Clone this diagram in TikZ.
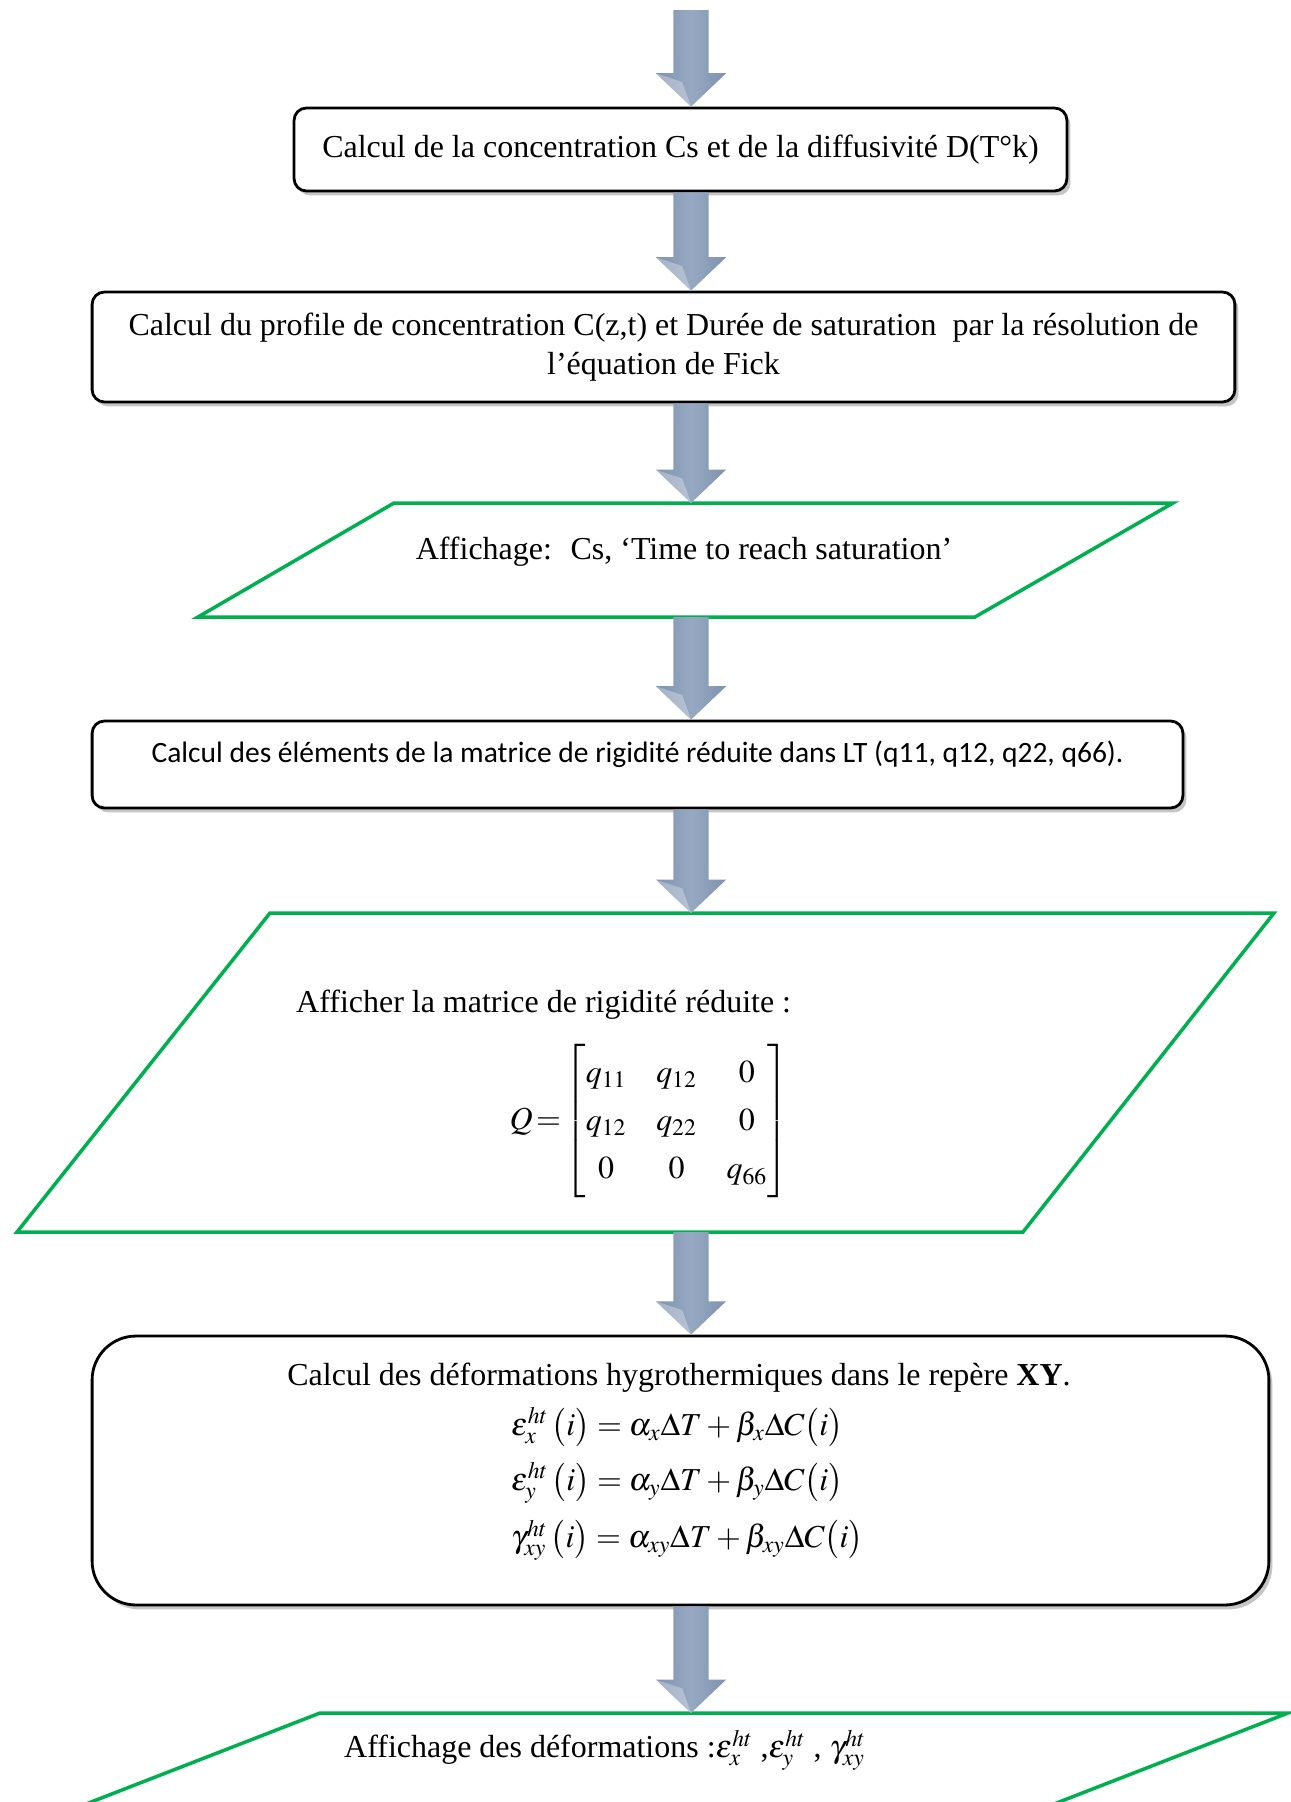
\documentclass[tikz,border=0pt]{standalone}
\usepackage{amsmath}
\usepackage{mathptmx}
\usepackage{fontspec}
\setmainfont{Liberation Serif}
\newfontfamily\calibri{Carlito}
\usetikzlibrary{calc,shadows}

\definecolor{flowgreen}{HTML}{00B050}
\definecolor{arrowside}{HTML}{7E92AE}
\definecolor{arrowmid}{HTML}{97A9C2}

% fat shaded arrow between two points on the same vertical
\newcommand{\flowarrow}[2]{%
  \shade[left color=arrowside,right color=arrowside,middle color=arrowmid]
    let \p1=(#1), \p2=(#2) in
    (\x1-10pt,\y1) -- (\x1+10pt,\y1) -- (\x1+10pt,\y2+19pt) -- (\x1+20pt,\y2+19pt)
    -- (\x1,\y2) -- (\x1-20pt,\y2+19pt) -- (\x1-10pt,\y2+19pt) -- cycle;
  \fill[white,opacity=.3] let \p2=(#2) in
    (\x2-20pt,\y2+19pt) -- (\x2,\y2) -- (\x2-5pt,\y2+14pt) -- cycle;}

\begin{document}
\begin{tikzpicture}[x=0.02cm,y=-0.02cm,font=\fontsize{18.2}{22}\selectfont,
  procbox/.style={draw,line width=1.6pt,rounded corners=7pt,fill=white,
    drop shadow={shadow xshift=2pt,shadow yshift=-2.5pt,opacity=.45}},
  iobox/.style={draw=flowgreen,line width=2pt,fill=white}]

        \fill[white] (0,0) rectangle (1291,1802);
        \useasboundingbox (0,0) rectangle (1291,1802);
        \clip (0,0) rectangle (1291,1802);

        \coordinate (axis) at (691,10);

        \node[procbox,minimum width=15.46cm,minimum height=1.66cm] (c1) at (680.5,149.5)
            {Calcul de la concentration Cs et de la diffusivité D(T°k)};
        \node[procbox,minimum width=22.86cm,minimum height=2.2cm,align=center] (c2) at (663.5,347)
            {Calcul du profile de concentration C(z,t) et Durée de saturation~ par la résolution de\\ l’équation de Fick};

        \draw[iobox] (394,503) -- (1173,503) -- (975,617) -- (198,617) -- cycle;
        \coordinate (p1top) at (691,503);
        \coordinate (p1bot) at (691,617);
        \node (t1) at (684,552) {Affichage:~ Cs, ‘Time to reach saturation’};

        \node[procbox,minimum width=21.82cm,minimum height=1.74cm,text depth=15pt,
            font=\calibri\fontsize{16.8}{20}\selectfont] (c3) at (637.5,764.5)
            {Calcul des éléments de la matrice de rigidité réduite dans LT (q11, q12, q22, q66).};

        \draw[iobox] (270,913) -- (1274,913) -- (1023,1232) -- (17,1232) -- cycle;
        \coordinate (p2top) at (691,913);
        \coordinate (p2bot) at (691,1232);
        \node[anchor=west] (t2) at (290,1005) {Afficher la matrice de rigidité réduite :};
        \node (q) at (649,1121) {\setlength{\arraycolsep}{8.5pt}\renewcommand{\arraystretch}{1.25}%
            $Q\!=\!\begin{bmatrix} q_{11} & q_{12} & 0\\ q_{12} & q_{22} & 0\\ 0 & 0 & q_{66}\end{bmatrix}$};

        \node[procbox,rounded corners=25pt,minimum width=23.54cm,minimum height=5.38cm] (c4) at (680.5,1470.5) {};
        \node (t3) at (679,1378) {Calcul des déformations hygrothermiques dans le repère \textbf{XY}.};
        \node[anchor=west] (e1) at (505,1427)
            {$\varepsilon_{x}^{ht}\,\bigl(i\bigr)=\alpha_{x}\Delta T+\beta_{x}\Delta C\bigl(i\bigr)$};
        \node[anchor=west] (e2) at (505,1483)
            {$\varepsilon_{y}^{ht}\,\bigl(i\bigr)=\alpha_{y}\Delta T+\beta_{y}\Delta C\bigl(i\bigr)$};
        \node[anchor=west] (e3) at (505,1540)
            {$\gamma_{xy}^{ht}\,\bigl(i\bigr)=\alpha_{xy}\Delta T+\beta_{xy}\Delta C\bigl(i\bigr)$};

        \draw[iobox] (320,1713) -- (1288,1713) -- (807,1900) -- (-161,1900) -- cycle;
        \coordinate (p3top) at (691,1713);
        \node[anchor=west] (t4) at (338,1750)
            {Affichage des déformations :$\varepsilon_{x}^{ht}$ ,$\varepsilon_{y}^{ht}$ , $\gamma_{xy}^{ht}$};

        \flowarrow{axis}{c1.north -| axis}
        \flowarrow{c1.south -| axis}{c2.north -| axis}
        \flowarrow{c2.south -| axis}{p1top}
        \flowarrow{p1bot}{c3.north -| axis}
        \flowarrow{c3.south -| axis}{p2top}
        \flowarrow{p2bot}{c4.north -| axis}
        \flowarrow{c4.south -| axis}{p3top}

\end{tikzpicture}
\end{document}
